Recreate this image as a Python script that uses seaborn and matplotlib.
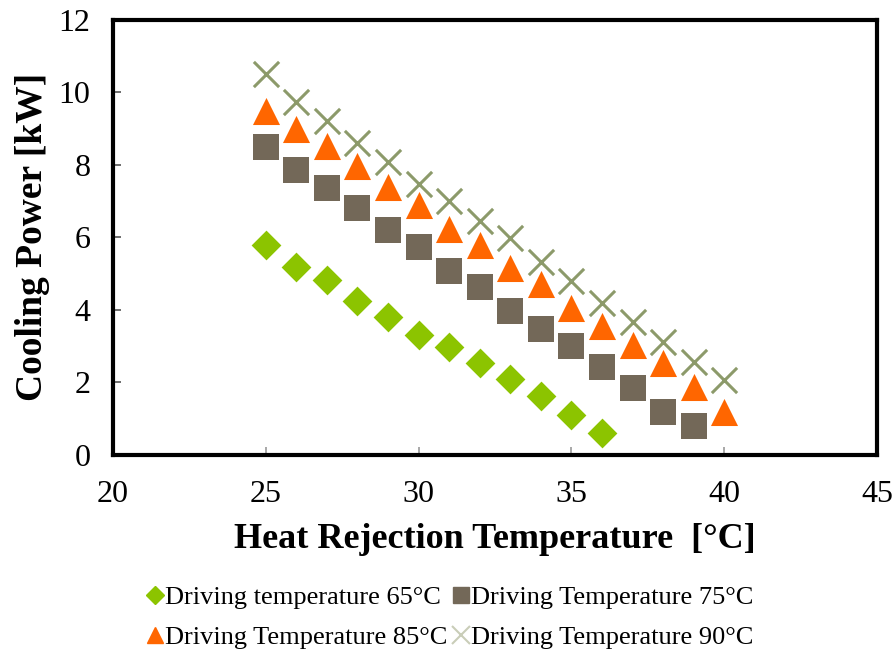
import matplotlib
matplotlib.use("Agg")
import matplotlib.pyplot as plt
import seaborn as sns
import pandas as pd
from matplotlib.lines import Line2D

# Heat rejection temperatures [°C]
temp_65 = [25, 26, 27, 28, 29, 30, 31, 32, 33, 34, 35, 36]
temp_75 = [25, 26, 27, 28, 29, 30, 31, 32, 33, 34, 35, 36, 37, 38, 39]
temp_85 = [25, 26, 27, 28, 29, 30, 31, 32, 33, 34, 35, 36, 37, 38, 39, 40]
temp_90 = [25, 26, 27, 28, 29, 30, 31, 32, 33, 34, 35, 36, 37, 38, 39, 40]

# Cooling power [kW]
power_65 = [5.79, 5.19, 4.82, 4.25, 3.81, 3.31, 2.96, 2.54, 2.09, 1.62, 1.09, 0.60]
power_75 = [8.49, 7.87, 7.35, 6.82, 6.20, 5.74, 5.08, 4.62, 3.98, 3.48, 2.99, 2.41, 1.84, 1.18, 0.80]
power_85 = [9.49, 8.99, 8.51, 7.98, 7.39, 6.90, 6.24, 5.79, 5.15, 4.70, 4.06, 3.56, 3.02, 2.53, 1.86, 1.19]
power_90 = [10.50, 9.73, 9.20, 8.61, 8.08, 7.48, 7.01, 6.45, 5.97, 5.33, 4.80, 4.18, 3.67, 3.12, 2.55, 2.07]

labels = ["Driving temperature 65°C", "Driving Temperature 75°C",
          "Driving Temperature 85°C", "Driving Temperature 90°C"]

frames = []
for lab, t, p in zip(labels, [temp_65, temp_75, temp_85, temp_90],
                     [power_65, power_75, power_85, power_90]):
    frames.append(pd.DataFrame({"T": t, "P": p, "series": lab}))
df = pd.concat(frames, ignore_index=True)

sns.set_theme(style="white")
plt.rcParams["font.family"] = ["Liberation Serif", "DejaVu Serif"]
plt.rcParams.update({"text.color": "black", "axes.labelcolor": "black",
                     "xtick.color": "black", "ytick.color": "black"})

styles = {
    labels[0]: dict(marker="D", color="#8CC400", s=230, lw=0),
    labels[1]: dict(marker="s", color="#736858", s=330, lw=0),
    labels[2]: dict(marker="^", color="#FF6600", s=380, lw=0),
    labels[3]: dict(marker="x", color="#8C9A6A", s=330, lw=2.2),
}

fig = plt.figure(figsize=(8.95, 6.61), dpi=100)
ax = fig.add_axes([0.126, 0.312, 0.854, 0.658])

for lab in labels:
    st = styles[lab]
    sub = df[df["series"] == lab]
    sns.scatterplot(data=sub, x="T", y="P", ax=ax, marker=st["marker"],
                    color=st["color"], s=st["s"], linewidth=st["lw"],
                    edgecolor=st["color"] if st["marker"] != "x" else None,
                    legend=False)

ax.set_xlim(20, 45)
ax.set_ylim(0, 12)
ax.set_xticks([20, 25, 30, 35, 40, 45])
ax.set_yticks([0, 2, 4, 6, 8, 10, 12])

for sp in ax.spines.values():
    sp.set_visible(True)
    sp.set_color("black")
    sp.set_linewidth(3)

ax.tick_params(axis="y", direction="in", length=6, width=1.2, color="#555555",
               labelcolor="black", labelsize=23, pad=16, left=True)
ax.tick_params(axis="x", direction="in", length=6, width=1.2, color="#999999",
               labelcolor="black", labelsize=23, pad=18, bottom=True)

ax.set_xlabel("Heat Rejection Temperature  [°C]", fontsize=26, fontweight="bold",
              labelpad=10)
ax.set_ylabel("Cooling Power [kW]", fontsize=27, fontweight="bold", labelpad=6)

marker_handles = {
    labels[0]: Line2D([], [], linestyle="none", marker="D", color="#8CC400", markersize=9),
    labels[1]: Line2D([], [], linestyle="none", marker="s", color="#736858", markersize=12),
    labels[2]: Line2D([], [], linestyle="none", marker="^", color="#FF6600", markersize=12),
    labels[3]: Line2D([], [], linestyle="none", marker="x", color="#C9CDB8", markersize=13,
                      markeredgewidth=1.5),
}
# Two columns filled column-first: 65/85 on the left, 75/90 on the right
order = [labels[0], labels[2], labels[1], labels[3]]
fig.legend([marker_handles[k] for k in order], order, loc="center",
           bbox_to_anchor=(0.503, 0.066), ncol=2, frameon=False, fontsize=19,
           handlelength=0.6, handletextpad=0.1, columnspacing=0.2,
           labelspacing=0.65, borderaxespad=0)

fig.savefig("out.png", dpi=100)
